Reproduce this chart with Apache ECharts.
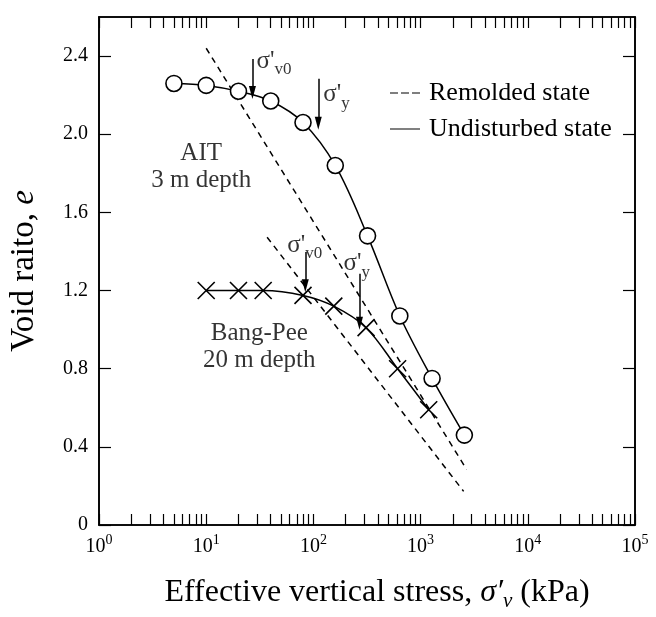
<!DOCTYPE html>
<html>
<head>
<meta charset="utf-8">
<script src="https://cdn.jsdelivr.net/npm/echarts@6/dist/echarts.min.js"></script>
<style>
  html, body { margin: 0; padding: 0; background: #fff; }
  #chart { width: 656px; height: 617px; }
</style>
</head>
<body>
<div id="chart"></div>
<script>
// Oedometer compression curves: void ratio vs effective vertical stress (log scale)
const FONT = 'Liberation Serif';

// AIT clay, 3 m depth (undisturbed)
const aitStress = [5, 10, 20, 40, 80, 160, 320, 640, 1280, 2560];
const aitVoid   = [2.26, 2.25, 2.22, 2.17, 2.06, 1.84, 1.48, 1.07, 0.75, 0.46];

// Bang-Pee clay, 20 m depth (undisturbed)
const bpStress = [10, 20, 34, 80, 155, 310, 610, 1190];
const bpVoid   = [1.20, 1.20, 1.20, 1.175, 1.12, 1.01, 0.80, 0.59];

// Remolded compression lines (end points)
const aitRemoldStress = [10, 2690];
const aitRemoldVoid   = [2.44, 0.284];
const bpRemoldStress  = [37, 2520];
const bpRemoldVoid    = [1.473, 0.172];

// Axis ticks
const xMajor = [1, 10, 100, 1000, 10000, 100000];
const xTicks = [];
xMajor.slice(0, -1).forEach(d => { for (let k = 1; k <= 9; k++) xTicks.push(d * k); });
xTicks.push(100000);
const yTicks = [0, 0.4, 0.8, 1.2, 1.6, 2.0, 2.4];

// In-situ / yield stress markers: stress, arrow top, arrow tip, subscript
const markStress = [27, 111, 84, 269];
const markTop    = [2.385, 2.284, 1.397, 1.286];
const markTip    = [2.213, 2.056, 1.225, 1.033];
const markSub    = ['v0', 'y', 'v0', 'y'];
const markOffset = [[4, 2], [5, 16], [-18, -7], [-16, -10]];

const zip = (a, b) => a.map((v, i) => [v, b[i]]);

const crossPath = 'path://M0,0L20,20M20,0L0,20';

const chart = echarts.init(document.getElementById('chart'), null, { renderer: 'canvas' });

const axisLineStyle = { color: '#000', width: 1.6 };

function xAxisCfg(pos, labels) {
  return {
    type: 'log', logBase: 10, min: 1, max: 100000, position: pos,
    axisLine: { show: true, onZero: false, lineStyle: axisLineStyle },
    axisTick: { show: true, inside: true, length: 11, customValues: xTicks,
                lineStyle: { color: '#000', width: 1.2 } },
    minorTick: { show: false },
    splitLine: { show: false },
    axisLabel: labels ? {
      show: true, customValues: xMajor, margin: 8,
      formatter: v => '{b|10}{s|' + Math.round(Math.log10(v)) + '}',
      rich: {
        b: { fontFamily: FONT, fontSize: 20, color: '#000', verticalAlign: 'bottom', lineHeight: 24 },
        s: { fontFamily: FONT, fontSize: 14, color: '#000', verticalAlign: 'top', lineHeight: 24, padding: [0, 0, 9, 0] }
      }
    } : { show: false },
    name: labels ? '{t|Effective vertical stress, }{i|σ′}{is|v}{t| (kPa)}' : '',
    nameLocation: 'middle', nameGap: 49,
    nameTextStyle: {
      padding: [0, 0, 0, 20],
      rich: {
        t: { fontFamily: FONT, fontSize: 32, color: '#000', lineHeight: 38 },
        i: { fontFamily: FONT, fontSize: 32, fontStyle: 'italic', color: '#000', lineHeight: 38 },
        is: { fontFamily: FONT, fontSize: 21, fontStyle: 'italic', color: '#000', lineHeight: 38, verticalAlign: 'bottom' }
      }
    }
  };
}

function yAxisCfg(pos, labels) {
  return {
    type: 'value', min: 0, max: 2.6, position: pos,
    axisLine: { show: true, onZero: false, lineStyle: axisLineStyle },
    axisTick: { show: true, inside: true, length: 12, customValues: yTicks,
                lineStyle: { color: '#000', width: 1.2 } },
    splitLine: { show: false },
    axisLabel: labels ? {
      show: true, customValues: yTicks, margin: 11,
      fontFamily: FONT, fontSize: 20, color: '#000',
      formatter: v => (v === 0 ? '0' : v.toFixed(1))
    } : { show: false },
    name: labels ? '{t|Void raito, }{i|e}' : '',
    nameLocation: 'middle', nameGap: 58, nameRotate: 90,
    nameTextStyle: {
      rich: {
        t: { fontFamily: FONT, fontSize: 33, color: '#000' },
        i: { fontFamily: FONT, fontSize: 33, fontStyle: 'italic', color: '#000' }
      }
    }
  };
}

const markerLabels = markStress.map((s, i) => ({
  value: [s, markTop[i]],
  label: {
    show: true, position: 'inside', align: 'left', verticalAlign: 'middle',
    offset: markOffset[i],
    formatter: '{g|σ\'}{u|' + markSub[i] + '}',
    rich: {
      g: { fontFamily: FONT, fontSize: 25, color: '#000', lineHeight: 34, verticalAlign: 'middle' },
      u: { fontFamily: FONT, fontSize: 17, color: '#000', lineHeight: 34, verticalAlign: 'bottom' }
    }
  }
}));

const arrowLines = markStress.map((s, i) => [
  { coord: [s, markTop[i]], symbol: 'none' },
  { coord: [s, markTip[i]], symbol: 'triangle', symbolSize: [7, 13] }
]);

const siteLabels = [
  { value: [8.98, 1.833], text: 'AIT\n3 m depth' },
  { value: [31.3, 0.912], text: 'Bang-Pee\n20 m depth' }
];

chart.setOption({
  animation: false,
  backgroundColor: '#fff',
  grid: { left: 99, right: 21, top: 17, bottom: 88, show: true,
          borderColor: '#000', borderWidth: 1.6, backgroundColor: 'transparent' },
  xAxis: [xAxisCfg('bottom', true), xAxisCfg('top', false)],
  yAxis: [yAxisCfg('left', true), yAxisCfg('right', false)],
  legend: {
    left: 385, top: 73, orient: 'vertical', itemGap: 6,
    itemWidth: 30, itemHeight: 2, selectedMode: false,
    textStyle: { fontFamily: FONT, fontSize: 26, color: '#000', lineHeight: 30, padding: [0, 0, 0, 4] },
    data: [
      { name: 'Remolded state', icon: 'path://M0,0h8v1h-8zM11,0h8v1h-8zM22,0h8v1h-8z',
        itemStyle: { color: '#000', borderWidth: 0 } },
      { name: 'Undisturbed state', icon: 'path://M0,0h30v1h-30z',
        itemStyle: { color: '#000', borderWidth: 0 } }
    ]
  },
  series: [
    {
      name: 'Remolded state', type: 'line', data: zip(aitRemoldStress, aitRemoldVoid),
      showSymbol: false, symbol: 'none', silent: true,
      lineStyle: { color: '#000', width: 1.5, type: [6, 5] }, itemStyle: { color: '#000' }
    },
    {
      name: 'Remolded state', type: 'line', data: zip(bpRemoldStress, bpRemoldVoid),
      showSymbol: false, symbol: 'none', silent: true,
      lineStyle: { color: '#000', width: 1.5, type: [6, 5] }, itemStyle: { color: '#000' }
    },
    {
      name: 'Undisturbed state', type: 'line', data: zip(aitStress, aitVoid),
      smooth: 0.35, symbol: 'circle', symbolSize: 16, silent: true, z: 5,
      lineStyle: { color: '#000', width: 1.5 },
      itemStyle: { color: '#fff', borderColor: '#000', borderWidth: 1.6 }
    },
    {
      name: 'Undisturbed state', type: 'line', data: zip(bpStress, bpVoid),
      smooth: 0.35, symbol: crossPath, symbolSize: 17, silent: true, z: 5,
      lineStyle: { color: '#000', width: 1.5 },
      itemStyle: { color: 'transparent', borderColor: '#000', borderWidth: 1.6 }
    },
    {
      name: 'markers', type: 'scatter', data: markerLabels, symbolSize: 0, silent: true, z: 6,
      markLine: {
        silent: true, animation: false,
        lineStyle: { color: '#000', width: 1.5, type: 'solid' },
        label: { show: false },
        data: arrowLines
      }
    },
    {
      name: 'sites', type: 'scatter', symbolSize: 0, silent: true,
      data: siteLabels.map(d => ({
        value: d.value,
        label: { show: true, position: 'inside', formatter: d.text, align: 'center', verticalAlign: 'middle',
                 fontFamily: FONT, fontSize: 25, lineHeight: 27, color: '#000' }
      }))
    }
  ]
});
</script>
</body>
</html>
